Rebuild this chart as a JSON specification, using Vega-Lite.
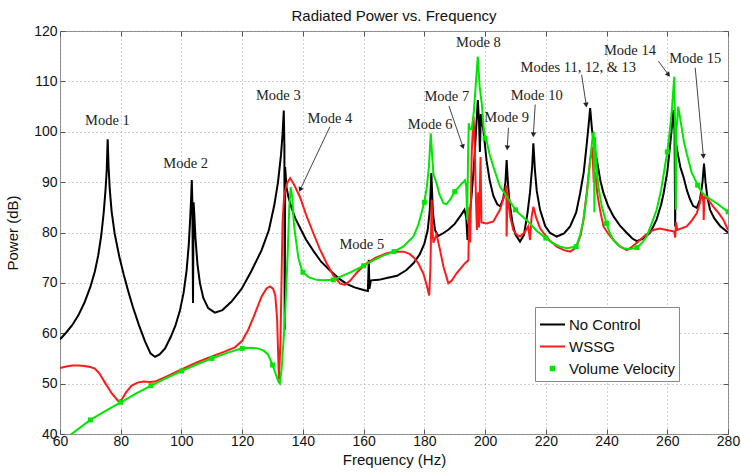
{
"$schema":"https://vega.github.io/schema/vega-lite/v6.json",
"width":668,"height":403,"autosize":"none",
"padding":{"left":60,"top":31,"right":13,"bottom":39},
"background":"white",
"title":{"text":"Radiated Power vs. Frequency","font":"Liberation Sans","fontSize":15,"fontWeight":"normal","color":"#111","baseline":"alphabetic","offset":0,"dy":12},
"config":{
 "view":{"stroke":"#8a8a8a","strokeWidth":1},
 "axis":{"labelFont":"Liberation Sans","labelFontSize":14,"labelColor":"#111","titleFont":"Liberation Sans","titleFontSize":15,"titleFontWeight":"normal","titleColor":"#111","domain":false,"tickColor":"#555","tickSize":-5,"gridColor":"#a0a0a0","gridDash":[1,3],"gridOpacity":1,"labelFlush":false}
},
"datasets":{
"nc":[{"f":60,"p":58.8},{"f":62,"p":60.1},{"f":64,"p":61.6},{"f":66,"p":63.5},{"f":68,"p":66},{"f":70,"p":69.2},{"f":71.5,"p":72.3},{"f":72.6,"p":75.5},{"f":73.6,"p":79.5},{"f":74.4,"p":84},{"f":75,"p":88.5},{"f":75.4,"p":92.5},{"f":75.7,"p":98.5},{"f":76.0,"p":93},{"f":76.4,"p":88.5},{"f":77,"p":84.2},{"f":78,"p":79.8},{"f":79.5,"p":75.3},{"f":81,"p":71.6},{"f":82.5,"p":68.3},{"f":84,"p":65.2},{"f":86,"p":61.6},{"f":88,"p":58.4},{"f":89.8,"p":56},{"f":91.3,"p":55.3},{"f":92.8,"p":55.8},{"f":94.6,"p":57},{"f":96.5,"p":59.3},{"f":98,"p":61.5},{"f":99.5,"p":64.5},{"f":100.7,"p":68},{"f":101.7,"p":72.5},{"f":102.4,"p":77.5},{"f":102.9,"p":83},{"f":103.2,"p":87},{"f":103.4,"p":90.4},{"f":103.6,"p":86},{"f":103.8,"p":66},{"f":104,"p":86},{"f":104.2,"p":84},{"f":104.6,"p":79},{"f":105.3,"p":73.5},{"f":106.1,"p":69.9},{"f":107.2,"p":67},{"f":108.8,"p":65},{"f":111,"p":64.1},{"f":113.5,"p":64.6},{"f":116.5,"p":66.3},{"f":119.8,"p":68.8},{"f":123,"p":72.3},{"f":126.4,"p":76.5},{"f":128.8,"p":80.5},{"f":130.6,"p":85.5},{"f":131.8,"p":90},{"f":132.8,"p":95.5},{"f":133.3,"p":99.5},{"f":133.7,"p":104.2},{"f":133.9,"p":97},{"f":134.0,"p":60.7},{"f":134.15,"p":93},{"f":134.6,"p":89},{"f":135.2,"p":87.1},{"f":136.2,"p":85},{"f":137.5,"p":82.8},{"f":139,"p":81},{"f":141,"p":78.6},{"f":143.4,"p":76.4},{"f":146,"p":74.2},{"f":149,"p":72.4},{"f":152,"p":70.8},{"f":154.4,"p":69.8},{"f":157,"p":69.1},{"f":160,"p":68.6},{"f":161.4,"p":68.4},{"f":161.7,"p":74.6},{"f":161.9,"p":68.8},{"f":162.4,"p":70.5},{"f":165,"p":70.6},{"f":168,"p":71},{"f":171,"p":71.4},{"f":174,"p":72.5},{"f":176.4,"p":73.9},{"f":178.5,"p":75.7},{"f":180,"p":77.8},{"f":181.1,"p":80.5},{"f":181.8,"p":84.5},{"f":182.3,"p":91.8},{"f":182.8,"p":84},{"f":183.5,"p":80.5},{"f":184.5,"p":79.3},{"f":186.3,"p":79.9},{"f":188,"p":80.6},{"f":190,"p":81.7},{"f":192,"p":83.4},{"f":193.2,"p":84.5},{"f":193.8,"p":83},{"f":194.2,"p":78.5},{"f":194.7,"p":82},{"f":195.5,"p":87},{"f":196.3,"p":93},{"f":197,"p":100},{"f":197.6,"p":106.3},{"f":198,"p":102},{"f":198.3,"p":96},{"f":198.6,"p":103.5},{"f":199.4,"p":100.5},{"f":200.5,"p":94.2},{"f":201.5,"p":90.4},{"f":202.7,"p":87.3},{"f":204,"p":85.6},{"f":205,"p":85.2},{"f":206,"p":86.8},{"f":206.7,"p":90},{"f":207.1,"p":94.4},{"f":207.5,"p":90},{"f":208,"p":86.3},{"f":209,"p":82},{"f":210,"p":79.6},{"f":211.5,"p":78.2},{"f":212.8,"p":79.5},{"f":214,"p":84},{"f":214.8,"p":88},{"f":215.5,"p":93},{"f":215.9,"p":97.7},{"f":216.4,"p":92.5},{"f":217,"p":88.3},{"f":218.1,"p":84.5},{"f":219.8,"p":81.3},{"f":221.4,"p":79.9},{"f":223.6,"p":79.2},{"f":226,"p":79.8},{"f":228,"p":81.2},{"f":230,"p":84},{"f":231.3,"p":87.8},{"f":232.5,"p":92},{"f":233.5,"p":97.7},{"f":234.2,"p":102},{"f":234.6,"p":104.7},{"f":235.2,"p":100.5},{"f":236,"p":96.8},{"f":236.8,"p":94.4},{"f":238,"p":90.2},{"f":239,"p":87.8},{"f":240.5,"p":85.3},{"f":242.3,"p":83.2},{"f":244.5,"p":81.3},{"f":246.7,"p":79.9},{"f":248.5,"p":78.8},{"f":250,"p":78.3},{"f":252,"p":78.8},{"f":254.4,"p":80},{"f":256.5,"p":82.6},{"f":258,"p":85.6},{"f":258.8,"p":87.8},{"f":260,"p":92},{"f":261,"p":97.7},{"f":261.6,"p":101.5},{"f":262,"p":104.3},{"f":262.4,"p":100},{"f":262.6,"p":81.2},{"f":262.8,"p":98},{"f":263.5,"p":95.5},{"f":264.3,"p":93},{"f":265.3,"p":91.1},{"f":266.5,"p":88.3},{"f":267.5,"p":86.6},{"f":268.5,"p":85.3},{"f":269.7,"p":84.9},{"f":270.8,"p":86.6},{"f":271.6,"p":90},{"f":272.1,"p":93.7},{"f":272.6,"p":90},{"f":273.2,"p":87},{"f":274.1,"p":84.5},{"f":275.5,"p":82.8},{"f":277.4,"p":81.3},{"f":280,"p":80}],
"ws":[{"f":60,"p":53.1},{"f":62,"p":53.4},{"f":64,"p":53.6},{"f":66,"p":53.6},{"f":68,"p":53.5},{"f":70,"p":53.3},{"f":71.5,"p":53},{"f":73,"p":52},{"f":74.8,"p":50.2},{"f":77,"p":48.1},{"f":79.2,"p":46.5},{"f":80.3,"p":46.8},{"f":81.8,"p":48.3},{"f":83.6,"p":49.6},{"f":85.5,"p":50.2},{"f":87.5,"p":50.4},{"f":89.5,"p":50.3},{"f":91.3,"p":50.4},{"f":95,"p":51.4},{"f":100,"p":52.8},{"f":105,"p":54.2},{"f":110,"p":55.4},{"f":114,"p":56.3},{"f":117.6,"p":57.2},{"f":120,"p":58.5},{"f":122,"p":60.7},{"f":124,"p":63.6},{"f":126.4,"p":67.3},{"f":128,"p":68.9},{"f":129.2,"p":69.3},{"f":130.2,"p":68.8},{"f":130.9,"p":67.5},{"f":131.5,"p":63},{"f":132.1,"p":50.8},{"f":132.6,"p":58},{"f":133,"p":72},{"f":133.3,"p":82},{"f":133.8,"p":87},{"f":134.6,"p":89.6},{"f":135.8,"p":90.8},{"f":137,"p":89.6},{"f":139,"p":87.1},{"f":141,"p":83.6},{"f":143.4,"p":79.9},{"f":145.5,"p":76.8},{"f":147.8,"p":73.9},{"f":150,"p":71.5},{"f":152.2,"p":69.9},{"f":153.8,"p":69.6},{"f":155.5,"p":70.4},{"f":158,"p":72.2},{"f":161,"p":73.9},{"f":164,"p":75},{"f":167.6,"p":75.9},{"f":170,"p":76.2},{"f":173.1,"p":76.2},{"f":175,"p":75.8},{"f":176.4,"p":75.1},{"f":178,"p":73.9},{"f":179.7,"p":71.8},{"f":180.8,"p":69.5},{"f":181.6,"p":67.5},{"f":182,"p":73},{"f":182.4,"p":86.5},{"f":182.7,"p":80},{"f":183,"p":78},{"f":184,"p":79.6},{"f":185,"p":77},{"f":186.3,"p":73.2},{"f":187.9,"p":69.9},{"f":189,"p":70.4},{"f":190.6,"p":71.9},{"f":193.4,"p":73.9},{"f":194.5,"p":74.5},{"f":194.8,"p":85},{"f":195.1,"p":78},{"f":195.6,"p":96},{"f":196.2,"p":103},{"f":196.6,"p":97},{"f":197,"p":86.5},{"f":197.3,"p":80.5},{"f":197.7,"p":88},{"f":198,"p":81},{"f":198.5,"p":95},{"f":198.8,"p":82},{"f":200.5,"p":81.8},{"f":202.7,"p":82.2},{"f":204.9,"p":84.5},{"f":206.2,"p":87},{"f":207,"p":89.4},{"f":207.1,"p":79.2},{"f":207.4,"p":88},{"f":208.3,"p":83},{"f":209.3,"p":80.5},{"f":210.5,"p":79.5},{"f":211.5,"p":79.2},{"f":213,"p":80},{"f":214.2,"p":81.2},{"f":214.8,"p":78.5},{"f":215.3,"p":83},{"f":215.9,"p":85.1},{"f":216.8,"p":83},{"f":218,"p":81},{"f":219.2,"p":79.9},{"f":221.5,"p":78.3},{"f":223.6,"p":77.2},{"f":226,"p":76.5},{"f":228,"p":76.2},{"f":230,"p":77},{"f":231.5,"p":79.5},{"f":232.4,"p":82.5},{"f":233.5,"p":88},{"f":234.6,"p":94.4},{"f":235.3,"p":97},{"f":235.8,"p":90},{"f":236.3,"p":92},{"f":237,"p":87.5},{"f":238,"p":84},{"f":239,"p":81.2},{"f":240.5,"p":79.8},{"f":242.3,"p":78.5},{"f":244.5,"p":77.2},{"f":246.7,"p":76.5},{"f":248.5,"p":77.2},{"f":251,"p":78.5},{"f":253,"p":79.6},{"f":255.4,"p":80.5},{"f":257.5,"p":80.8},{"f":259.8,"p":80.5},{"f":261.5,"p":80.3},{"f":262.3,"p":80.2},{"f":262.6,"p":79},{"f":262.9,"p":82},{"f":263.3,"p":80.5},{"f":266.4,"p":81.2},{"f":268,"p":82.3},{"f":269.7,"p":83.8},{"f":270.8,"p":86},{"f":271.4,"p":88.1},{"f":271.9,"p":86},{"f":272,"p":82.5},{"f":272.2,"p":87},{"f":273.2,"p":86.8},{"f":275.2,"p":85.1},{"f":277,"p":83.8},{"f":278.5,"p":82.5},{"f":280,"p":80.5}],
"vv":[{"f":60,"p":38.5},{"f":63.8,"p":40},{"f":70,"p":42.8},{"f":75,"p":44.6},{"f":80,"p":46.3},{"f":85,"p":48},{"f":90,"p":49.6},{"f":95,"p":51.1},{"f":100,"p":52.5},{"f":105,"p":53.8},{"f":110,"p":55},{"f":115,"p":56.1},{"f":120,"p":57},{"f":123,"p":57.1},{"f":125,"p":57},{"f":127,"p":56.6},{"f":128.5,"p":55.8},{"f":130,"p":53.7},{"f":131,"p":52},{"f":132,"p":50.3},{"f":132.4,"p":50},{"f":133,"p":53},{"f":134,"p":62},{"f":135,"p":76},{"f":135.5,"p":85},{"f":136,"p":89},{"f":136.5,"p":87},{"f":137,"p":82},{"f":137.4,"p":79.9},{"f":138.5,"p":75},{"f":139.5,"p":72.8},{"f":140,"p":72.1},{"f":142,"p":71.1},{"f":144.5,"p":70.6},{"f":147,"p":70.5},{"f":150,"p":70.6},{"f":153,"p":71.4},{"f":156,"p":72.2},{"f":160,"p":73.4},{"f":163,"p":74.4},{"f":166,"p":75.3},{"f":170,"p":76.2},{"f":173,"p":77.2},{"f":176.4,"p":79.2},{"f":178,"p":81.5},{"f":180,"p":86},{"f":180.8,"p":89},{"f":181.5,"p":93},{"f":182.1,"p":99.7},{"f":182.6,"p":95},{"f":183,"p":91.5},{"f":184,"p":89.8},{"f":185,"p":87.5},{"f":186.3,"p":85.8},{"f":187.2,"p":85.6},{"f":188.5,"p":86.5},{"f":190,"p":88.1},{"f":192,"p":89.5},{"f":193.4,"p":90.4},{"f":193.8,"p":89},{"f":194.1,"p":82.5},{"f":194.4,"p":95},{"f":194.6,"p":101.7},{"f":195,"p":100.5},{"f":195.6,"p":100.5},{"f":196.3,"p":104},{"f":197,"p":110},{"f":197.6,"p":114.9},{"f":198.2,"p":109},{"f":198.9,"p":105.6},{"f":199.5,"p":101},{"f":200,"p":98.7},{"f":200.5,"p":98.2},{"f":201.5,"p":95.5},{"f":202.7,"p":93.1},{"f":204.9,"p":89.1},{"f":207.1,"p":87.2},{"f":210,"p":84.5},{"f":211.5,"p":83.6},{"f":214.8,"p":81.8},{"f":217,"p":80.3},{"f":220,"p":78.9},{"f":222,"p":78},{"f":224.7,"p":77.2},{"f":227,"p":76.9},{"f":230,"p":77.2},{"f":231.3,"p":79.5},{"f":232.4,"p":82.5},{"f":233.6,"p":88},{"f":234.6,"p":94.4},{"f":235.5,"p":99.5},{"f":235.8,"p":100},{"f":236,"p":84},{"f":236.2,"p":99},{"f":236.6,"p":94},{"f":237.3,"p":89.1},{"f":238.5,"p":85},{"f":240,"p":81.8},{"f":241,"p":80},{"f":242.3,"p":78.5},{"f":244,"p":77.4},{"f":245.6,"p":76.9},{"f":247.5,"p":76.7},{"f":250,"p":77},{"f":251.5,"p":77.8},{"f":253.2,"p":79.2},{"f":255,"p":82},{"f":256.5,"p":84.5},{"f":258,"p":88.5},{"f":259.2,"p":93},{"f":260,"p":96},{"f":260.8,"p":100},{"f":261.5,"p":104.3},{"f":262.3,"p":110.9},{"f":262.6,"p":100},{"f":262.8,"p":84.5},{"f":263,"p":100},{"f":263.6,"p":105},{"f":264.7,"p":101},{"f":265.5,"p":98},{"f":266.4,"p":95.7},{"f":268,"p":92},{"f":270,"p":89.4},{"f":271.3,"p":88},{"f":273,"p":87.1},{"f":274.5,"p":86.5},{"f":276.3,"p":85.8},{"f":278,"p":85},{"f":280,"p":84.1}],
"notes":[{"t":"Mode 1","x":75.6,"y":102.2},{"t":"Mode 2","x":101.4,"y":93.6},{"t":"Mode 3","x":131.9,"y":107.0},{"t":"Mode 4","x":148.9,"y":102.5},{"t":"Mode 5","x":159.4,"y":77.5},{"t":"Mode 6","x":181.9,"y":101.4},{"t":"Mode 7","x":187.4,"y":106.8},{"t":"Mode 8","x":197.8,"y":117.6},{"t":"Mode 9","x":207.1,"y":102.7},{"t":"Mode 10","x":217.0,"y":107.0},{"t":"Modes 11, 12, & 13","x":230.7,"y":112.6},{"t":"Mode 14","x":247.7,"y":116.0},{"t":"Mode 15","x":269.2,"y":114.5}],
"arrows":[{"x":148.9,"y":101.0,"x2":139.1,"y2":88.5,"a":25},{"x":188.1,"y":105.1,"x2":192.7,"y2":97.0,"a":341},{"x":207.7,"y":100.8,"x2":207.3,"y2":96.8,"a":3},{"x":216.5,"y":105.4,"x2":215.9,"y2":99.4,"a":3},{"x":231.8,"y":111.3,"x2":233.3,"y2":105.3,"a":352},{"x":257.1,"y":114.0,"x2":260.4,"y2":111.3,"a":323},{"x":269.2,"y":112.7,"x2":271.9,"y2":95.1,"a":355}]
},
"layer":[
 {"data":{"name":"nc"},"mark":{"type":"line","strokeWidth":2,"clip":true},
  "encoding":{
   "x":{"field":"f","type":"quantitative","scale":{"domain":[60,280],"nice":false,"zero":false},
        "axis":{"orient":"bottom","values":[60,80,100,120,140,160,180,200,220,240,260,280],"grid":true,"title":"Frequency (Hz)","labelPadding":5,"titlePadding":4}},
   "y":{"field":"p","type":"quantitative","scale":{"domain":[40,120],"nice":false,"zero":false},
        "axis":{"orient":"left","values":[40,50,60,70,80,90,100,110,120],"grid":true,"title":"Power (dB)","labelPadding":8,"titlePadding":13}},
   "color":{"datum":"No Control","type":"nominal","scale":{"domain":["No Control","WSSG","Volume Velocity"],"range":["#000000","#ff1a1a","#00e600"]},
     "legend":{"orient":"none","legendX":475,"legendY":276,"title":null,"fillColor":"white","strokeColor":"#888","padding":4,"labelFont":"Liberation Sans","labelFontSize":15,"labelColor":"#111","labelOffset":3,"rowPadding":-8,
       "symbolType":{"expr":"datum.label === 'Volume Velocity' ? 'square' : 'stroke'"},
       "symbolSize":{"expr":"datum.label === 'Volume Velocity' ? 12 : 625"},
       "symbolFillColor":{"expr":"datum.label === 'Volume Velocity' ? '#00e600' : 'transparent'"},
       "symbolStrokeWidth":2}}
  }},
 {"data":{"name":"ws"},"mark":{"type":"line","strokeWidth":2,"clip":true},
  "encoding":{
   "x":{"field":"f","type":"quantitative","axis":{"orient":"top","values":[60,80,100,120,140,160,180,200,220,240,260,280],"labels":false,"grid":false,"title":null}},
   "y":{"field":"p","type":"quantitative","axis":{"orient":"right","values":[40,50,60,70,80,90,100,110,120],"labels":false,"grid":false,"title":null}},
   "color":{"datum":"WSSG","type":"nominal"}
  }},
 {"data":{"name":"vv"},"mark":{"type":"line","strokeWidth":2,"clip":true},
  "encoding":{
   "x":{"field":"f","type":"quantitative","axis":null},
   "y":{"field":"p","type":"quantitative","axis":null},
   "color":{"datum":"Volume Velocity","type":"nominal"}
  }},
 {"data":{"name":"vv"},"transform":[{"filter":"datum.f >= 70 && datum.f % 10 === 0"}],
  "mark":{"type":"square","size":25,"filled":true,"opacity":1,"color":"#00e600","clip":true},
  "encoding":{
   "x":{"field":"f","type":"quantitative","axis":null},
   "y":{"field":"p","type":"quantitative","axis":null}
  }},
 {"data":{"name":"arrows"},"mark":{"type":"rule","color":"#444","strokeWidth":1},
  "encoding":{
   "x":{"field":"x","type":"quantitative","axis":null},
   "y":{"field":"y","type":"quantitative","axis":null},
   "x2":{"field":"x2"},"y2":{"field":"y2"}
  }},
 {"data":{"name":"arrows"},"mark":{"type":"point","shape":"triangle-down","filled":true,"color":"#222","size":30,"opacity":1},
  "encoding":{
   "x":{"field":"x2","type":"quantitative","axis":null},
   "y":{"field":"y2","type":"quantitative","axis":null},
   "angle":{"field":"a","type":"quantitative","scale":null}
  }},
 {"data":{"name":"notes"},"mark":{"type":"text","font":"Liberation Serif","fontSize":14.5,"color":"#222","align":"center","baseline":"middle"},
  "encoding":{
   "x":{"field":"x","type":"quantitative","axis":null},
   "y":{"field":"y","type":"quantitative","axis":null},
   "text":{"field":"t"}
  }}
],
"resolve":{"axis":{"x":"independent","y":"independent"}}
}
